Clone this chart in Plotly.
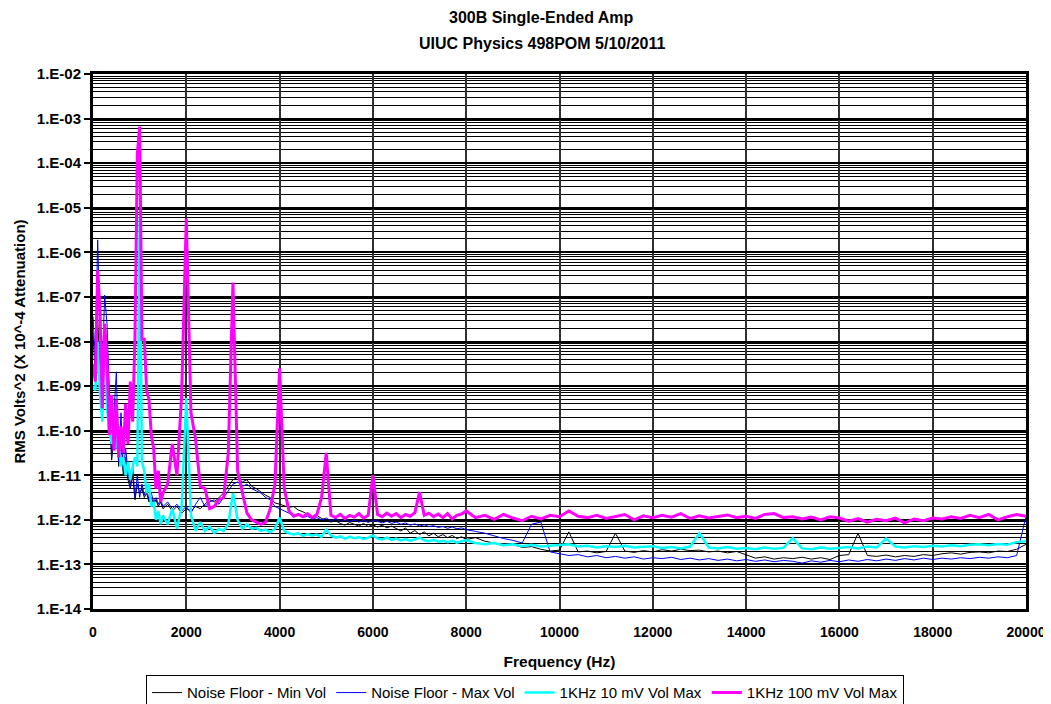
import plotly.graph_objects as go

# Frequency grid (Hz) of the read-off samples
freq = list(range(0, 1501, 50)) + list(range(1600, 8001, 100)) + list(range(8200, 20001, 200))

# Series values as log10(RMS Volts^2)
min_vol_log10 = [
    -7.80, -8.80, -7.50, -8.60, -9.20, -8.00, -8.90, -9.60, -10.66, -10.00, -9.40, -10.80, -10.20, -11.00, -10.60, -11.10,
    -11.30, -11.00, -11.55, -11.20, -11.40, -11.30, -11.50, -11.40, -11.60, -11.50, -11.65, -11.55, -11.70, -11.60, -11.75,
    -11.65, -11.80, -11.70, -11.85, -11.75,
    -11.80, -11.70, -11.75, -11.65, -11.55, -11.60, -11.50, -11.40, -11.25,
    -11.10,
    -11.05, -11.15, -11.10, -11.25, -11.30, -11.38, -11.45, -11.50, -11.62,
    -11.65,
    -11.68, -11.72, -11.70, -11.78, -11.82, -11.88, -11.93, -11.90, -11.97,
    -12.00,
    -12.05, -12.02, -12.08, -12.12, -12.06, -12.10, -12.14, -12.08, -12.15,
    -12.11,
    -12.16, -12.12, -12.18, -12.14, -12.20, -12.25, -12.18, -12.30, -12.24,
    -12.33,
    -12.27, -12.36, -12.30, -12.38, -12.33, -12.40, -12.35, -12.42, -12.38,
    -12.44,
    -12.40, -12.48, -12.52, -12.58, -12.55, -12.62, -12.60, -12.66, -12.70, -12.68,
    -12.27, -12.72, -12.70, -12.74, -12.71, -12.30, -12.70, -12.73, -12.69, -12.72,
    -12.67, -12.70, -12.66, -12.69, -12.68, -12.72, -12.70, -12.74, -12.71, -12.78,
    -12.86, -12.83, -12.88, -12.85, -12.87, -12.84, -12.88, -12.85, -12.89, -12.80,
    -12.78, -12.30, -12.80, -12.82, -12.79, -12.83, -12.80, -12.82, -12.78, -12.80,
    -12.76, -12.74, -12.77, -12.73, -12.72, -12.74, -12.70, -12.71, -12.66, -12.55,
]

max_vol_log10 = [
    -7.44, -8.40, -5.72, -7.80, -8.60, -6.96, -7.60, -9.00, -10.60, -9.60, -8.68, -10.70, -9.60, -10.90, -10.40, -10.90,
    -11.25, -10.80, -11.50, -11.00, -11.50, -11.20, -11.45, -11.30, -11.55, -11.40, -11.60, -11.50, -11.65, -11.55, -11.70,
    -11.60, -11.75, -11.65, -11.80, -11.70,
    -11.85, -11.65, -11.50, -11.70, -11.60, -11.55, -11.65, -11.50, -11.35,
    -11.20,
    -11.15, -11.25, -11.20, -11.30, -11.35, -11.40, -11.50, -11.55, -11.70,
    -11.75,
    -11.80, -11.85, -11.90, -11.88, -11.95, -11.92, -11.98, -11.95, -12.00,
    -11.96,
    -12.02, -11.97, -12.03, -11.99, -12.04, -12.00, -12.05, -12.01, -12.06,
    -12.00,
    -12.04, -12.07, -12.03, -12.08, -12.05, -12.10, -12.07, -12.12, -12.09,
    -12.14,
    -12.11, -12.15, -12.13, -12.17, -12.15, -12.19, -12.16, -12.20, -12.18,
    -12.22,
    -12.26, -12.30, -12.36, -12.42, -12.46, -12.52, -12.10, -12.05, -12.72, -12.76,
    -12.80, -12.78, -12.83, -12.80, -12.85, -12.82, -12.86, -12.83, -12.88, -12.85,
    -12.87, -12.84, -12.89, -12.86, -12.90, -12.87, -12.91, -12.88, -12.92, -12.89,
    -12.93, -12.90, -12.94, -12.91, -12.93, -12.97, -12.92, -12.95, -12.91, -12.94,
    -12.90, -12.93, -12.89, -12.92, -12.88, -12.91, -12.87, -12.90, -12.86, -12.89,
    -12.86, -12.88, -12.85, -12.87, -12.84, -12.86, -12.83, -12.85, -12.80, -11.92,
]

tone_10mv_log10 = [
    -9.00, -9.10, -8.00, -9.20, -9.80, -7.60, -9.50, -10.00, -10.30, -9.80, -10.40, -10.20, -10.80, -10.60, -11.00, -10.70,
    -11.10, -10.80, -10.60, -10.80, -5.20, -10.70, -10.90, -11.40, -11.20, -11.70, -11.60, -12.00, -11.80, -12.10, -11.90,
    -12.10, -11.75, -12.20, -11.70, -9.27,
    -11.90, -12.25, -12.05, -12.25, -12.15, -12.30, -12.20, -12.25, -12.10,
    -11.40,
    -12.00, -12.20, -12.10, -12.20, -12.18, -12.25, -12.22, -12.28, -12.20,
    -11.95,
    -12.25, -12.30, -12.33, -12.30, -12.36, -12.32, -12.35, -12.33, -12.38,
    -12.22,
    -12.35, -12.40, -12.37, -12.42, -12.38, -12.41, -12.39, -12.43, -12.40,
    -12.35,
    -12.42, -12.44, -12.40, -12.45, -12.42, -12.46, -12.43, -12.47, -12.44,
    -12.40,
    -12.46, -12.48, -12.45, -12.49, -12.47, -12.50, -12.47, -12.51, -12.48,
    -12.46,
    -12.52, -12.55, -12.52, -12.57, -12.55, -12.59, -12.56, -12.60, -12.58, -12.57,
    -12.55, -12.60, -12.58, -12.62, -12.59, -12.61, -12.58, -12.62, -12.60, -12.59,
    -12.63, -12.61, -12.64, -12.60, -12.30, -12.62, -12.64, -12.61, -12.65, -12.63,
    -12.66, -12.62, -12.65, -12.63, -12.41, -12.64, -12.66, -12.62, -12.65, -12.63,
    -12.61, -12.64, -12.60, -12.62, -12.42, -12.60, -12.62, -12.59, -12.61, -12.58,
    -12.60, -12.57, -12.59, -12.56, -12.55, -12.57, -12.54, -12.56, -12.50, -12.48,
]

tone_100mv_log10 = [
    -8.50, -8.90, -6.40, -7.30, -9.50, -7.60, -8.40, -10.10, -9.20, -10.45, -9.30, -10.60, -9.90, -10.50, -9.40, -10.30,
    -8.90, -9.80, -7.90, -3.80, -3.18, -7.95, -7.95, -9.10, -9.30, -10.10, -10.40, -11.30, -10.90, -11.60, -11.40,
    -11.20, -10.30, -11.00, -9.20, -5.24,
    -9.60, -10.20, -11.25, -11.30, -11.75, -11.70, -11.55, -11.50, -10.50,
    -6.68,
    -10.90, -11.35, -11.85, -12.00, -12.05, -12.10, -12.05, -11.75, -11.20,
    -8.60,
    -11.30, -11.80, -11.92, -11.88, -11.93, -11.86, -11.95, -11.88, -11.50,
    -10.50,
    -11.90, -11.95, -11.88, -11.97, -11.90, -11.94, -11.86, -11.96, -11.90,
    -11.00,
    -11.88, -11.93, -11.85, -11.92, -11.86, -11.95, -11.88, -11.92, -11.84,
    -11.38,
    -11.90, -11.85, -11.93, -11.87, -11.95, -11.86, -11.98, -11.90, -11.87,
    -11.80,
    -11.95, -11.90, -11.99, -11.88, -11.96, -12.02, -11.92, -11.98, -11.90, -11.93,
    -11.80, -11.92, -11.95, -11.90, -11.97, -11.92, -11.88, -12.00, -11.91, -11.95,
    -11.90, -11.94, -11.86, -11.97, -11.91, -11.96, -11.93, -11.89, -11.95, -11.92,
    -11.97, -11.88, -11.86, -11.95, -11.93, -11.98, -11.94, -12.00, -11.93, -11.96,
    -12.03, -11.97, -12.05, -11.99, -12.02, -11.96, -12.07, -11.98, -12.02, -11.96,
    -11.98, -11.93, -11.97, -11.90, -11.95, -11.88, -12.00, -11.93, -11.88, -11.92,
]

series_names = ["Noise Floor - Min Vol", "Noise Floor - Max Vol", "1KHz 10 mV Vol Max", "1KHz 100 mV Vol Max"]
series_values = [min_vol_log10, max_vol_log10, tone_10mv_log10, tone_100mv_log10]
series_colors = ["#000000", "#0000FF", "#00FFFF", "#FF00FF"]
series_widths = [1, 1, 2.5, 3]

decade_exponents = list(range(-14, -1))
decade_labels = ["1.E-%02d" % (-k) for k in decade_exponents]

FONT = "Liberation Sans, Arial, sans-serif"

fig = go.Figure()
for name, vals, color, width in zip(series_names, series_values, series_colors, series_widths):
    assert len(vals) == len(freq), (name, len(vals), len(freq))
    fig.add_trace(go.Scatter(
        x=freq, y=[10.0 ** v for v in vals], mode="lines", name=name,
        line=dict(color=color, width=width),
    ))

# the page body adds an 8 px offset, so the figure is 8 px smaller and margins compensate
fig.update_layout(
    width=1043, height=696,
    margin=dict(l=85, r=25, t=66, b=95, autoexpand=False),
    paper_bgcolor="white", plot_bgcolor="white",
    font=dict(family=FONT, color="black", size=14),
    showlegend=True,
    legend=dict(
        orientation="h", x=0.463, xanchor="center", y=-0.124, yanchor="top",
        bordercolor="black", borderwidth=1, font=dict(family=FONT, size=15, color="black"),
        itemwidth=30, bgcolor="white",
    ),
    annotations=[
        dict(text="<b>300B Single-Ended Amp</b>", xref="paper", yref="paper",
             x=0.4812, y=1.1047, xanchor="center", yanchor="middle", showarrow=False,
             font=dict(family=FONT, size=16, color="black")),
        dict(text="<b>UIUC Physics 498POM 5/10/2011</b>", xref="paper", yref="paper",
             x=0.4812, y=1.0561, xanchor="center", yanchor="middle", showarrow=False,
             font=dict(family=FONT, size=16, color="black")),
    ],
)

fig.update_xaxes(
    range=[0, 20000], tick0=0, dtick=2000, tickformat="d", showgrid=True, gridcolor="#303030", gridwidth=1.5,
    zeroline=False, showline=True, linecolor="black", linewidth=3, mirror=True,
    ticks="outside", ticklen=8, tickcolor="rgba(0,0,0,0)",
    tickfont=dict(family=FONT, size=14, color="black", weight="bold"),
    title=dict(text="<b>Frequency (Hz)</b>", font=dict(family=FONT, size=15.5, color="black"), standoff=18),
)

fig.update_yaxes(
    type="log", range=[-14, -2],
    tickmode="array", tickvals=[10.0 ** k for k in decade_exponents], ticktext=decade_labels,
    showgrid=True, gridcolor="black", gridwidth=2,
    minor=dict(tickmode="array",
               tickvals=[m * 10.0 ** k for k in range(-14, -2) for m in range(2, 10)],
               showgrid=True, gridcolor="black", gridwidth=1, ticks=""),
    zeroline=False, showline=True, linecolor="black", linewidth=3, mirror=True,
    ticks="outside", ticklen=6, tickwidth=2, tickcolor="black",
    tickfont=dict(family=FONT, size=15, color="black", weight="bold"),
    title=dict(text="<b>RMS Volts^2 (X 10^-4 Attenuation)</b>", font=dict(family=FONT, size=15, color="black"), standoff=8),
)

fig.write_html("out.html")
